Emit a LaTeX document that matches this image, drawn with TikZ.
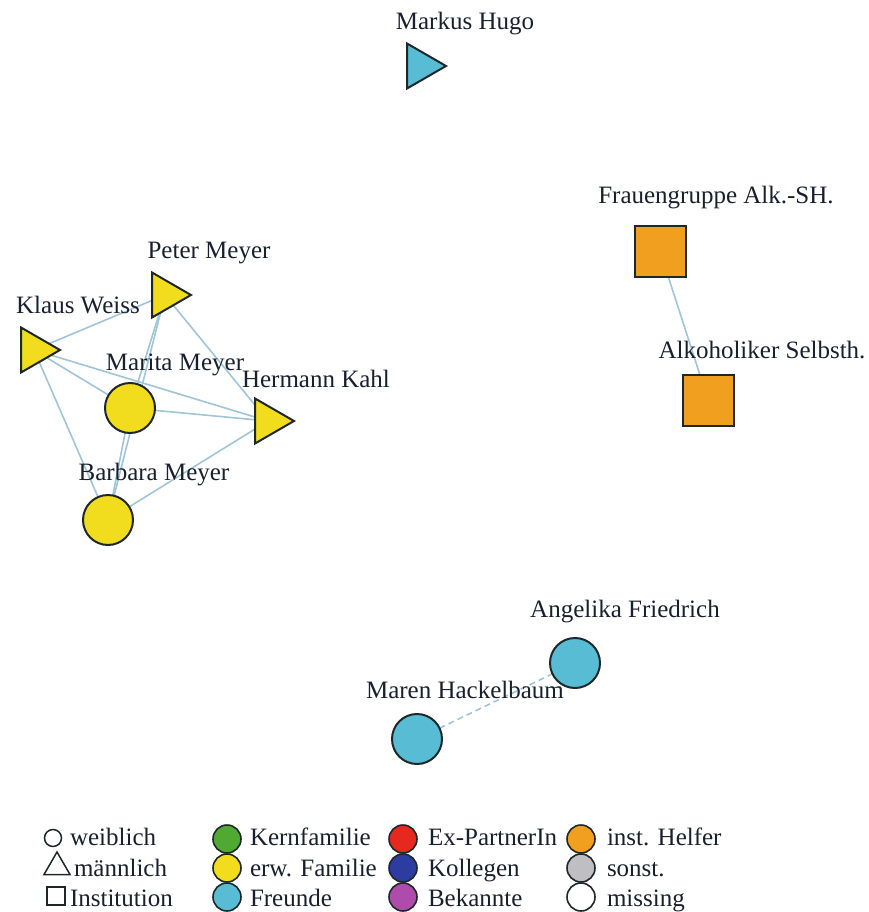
\documentclass[tikz,border=0pt]{standalone}
\usepackage{fontspec}
\setmainfont{Liberation Serif}
\usetikzlibrary{shapes.geometric,backgrounds}
\definecolor{rim}{RGB}{30,40,40}
\definecolor{tiecol}{RGB}{160,196,216}
\definecolor{txt}{RGB}{25,32,45}
\definecolor{kern}{RGB}{80,170,50}
\definecolor{erw}{RGB}{242,220,30}
\definecolor{freund}{RGB}{88,188,212}
\definecolor{expart}{RGB}{230,40,30}
\definecolor{kolleg}{RGB}{45,60,160}
\definecolor{bekannt}{RGB}{175,75,170}
\definecolor{helfer}{RGB}{240,160,30}
\definecolor{sonst}{RGB}{190,190,195}
\begin{document}
\begin{tikzpicture}[
        x=1pt, y=-1pt,
        every node/.style={inner sep=0pt, outer sep=0pt},
        person/.style={draw=rim, line width=2pt},
        woman/.style={person, circle, minimum size=50pt},
        man/.style={person, regular polygon, regular polygon sides=3,
            shape border rotate=-90, minimum size=52pt},
        inst/.style={person, rectangle, minimum size=51pt},
        tie/.style={draw=tiecol, line width=1.6pt},
        plabel/.style={font=\fontsize{25}{30}\selectfont, text=txt, anchor=base},
        keytext/.style={plabel, anchor=base west},
        keydot/.style={draw=rim, line width=1.6pt, circle, minimum size=28pt}
    ]
    \useasboundingbox (0,0) rectangle (868,912);

    \node[man, fill=freund] (markus) at (420,66) {};
    \node[plabel] (markus-lbl) at (465,30) {Markus Hugo};

    \node[man, fill=erw] (klaus) at (34,350) {};
    \node[man, fill=erw] (peter) at (165,295) {};
    \node[man, fill=erw] (hermann) at (268,421) {};
    \node[woman, fill=erw] (marita) at (130,408) {};
    \node[woman, fill=erw] (barbara) at (108,520) {};
    \node[plabel] (peter-lbl) at (209,258) {Peter Meyer};
    \node[plabel] (klaus-lbl) at (78,313) {Klaus Weiss};
    \node[plabel] (marita-lbl) at (175,370) {Marita Meyer};
    \node[plabel] (hermann-lbl) at (316,387) {Hermann Kahl};
    \node[plabel] (barbara-lbl) at (154,480) {Barbara Meyer};

    \node[inst, fill=helfer] (frauen) at (660,251) {};
    \node[inst, fill=helfer] (alko) at (708,400) {};
    \node[plabel] (frauen-lbl) at (716,203) {Frauengruppe Alk.-SH.};
    \node[plabel] (alko-lbl) at (762,358) {Alkoholiker Selbsth.};

    \node[woman, fill=freund] (angelika) at (575,663) {};
    \node[woman, fill=freund] (maren) at (417,739) {};
    \node[plabel] (angelika-lbl) at (625,617) {Angelika Friedrich};
    \node[plabel] (maren-lbl) at (465,698) {Maren Hackelbaum};

    \begin{scope}[on background layer]
        \path[tie]
            (klaus) edge (peter)
            (klaus) edge (marita)
            (klaus) edge (hermann)
            (klaus) edge (barbara)
            (peter) edge (marita)
            (peter) edge (barbara)
            (peter) edge (hermann)
            (marita) edge (hermann)
            (marita) edge (barbara)
            (barbara) edge (hermann)
            (frauen) edge (alko);
        \draw[tie, dash pattern=on 6pt off 4pt] (maren) -- (angelika);
    \end{scope}

    \node[draw=rim, line width=1.5pt, circle, minimum size=17pt] (key-w) at (53,838) {};
    \node[draw=rim, line width=1.5pt, regular polygon, regular polygon sides=3,
        minimum size=30pt] (key-m) at (57,867) {};
    \node[draw=rim, line width=1.5pt, rectangle, minimum size=18pt] (key-i) at (56,896) {};
    \node[keytext] (key-w-lbl) at (70,845) {weiblich};
    \node[keytext] (key-m-lbl) at (74,876) {männlich};
    \node[keytext] (key-i-lbl) at (70,906) {Institution};

    \node[keydot, fill=kern] (key-kern) at (227,839) {};
    \node[keydot, fill=erw] (key-erw) at (227,868) {};
    \node[keydot, fill=freund] (key-freund) at (227,897) {};
    \node[keytext] (key-kern-lbl) at (250,845) {Kernfamilie};
    \node[keytext] (key-erw-lbl) at (250,876) {erw. Familie};
    \node[keytext] (key-freund-lbl) at (250,906) {Freunde};

    \node[keydot, fill=expart] (key-ex) at (403,839) {};
    \node[keydot, fill=kolleg] (key-kolleg) at (403,868) {};
    \node[keydot, fill=bekannt] (key-bekannt) at (403,897) {};
    \node[keytext] (key-ex-lbl) at (428,845) {Ex-PartnerIn};
    \node[keytext] (key-kolleg-lbl) at (428,876) {Kollegen};
    \node[keytext] (key-bekannt-lbl) at (428,906) {Bekannte};

    \node[keydot, fill=helfer] (key-helfer) at (581,839) {};
    \node[keydot, fill=sonst] (key-sonst) at (581,868) {};
    \node[keydot, fill=white] (key-miss) at (581,897) {};
    \node[keytext] (key-helfer-lbl) at (607,845) {inst. Helfer};
    \node[keytext] (key-sonst-lbl) at (607,876) {sonst.};
    \node[keytext] (key-miss-lbl) at (607,906) {missing};
\end{tikzpicture}
\end{document}
